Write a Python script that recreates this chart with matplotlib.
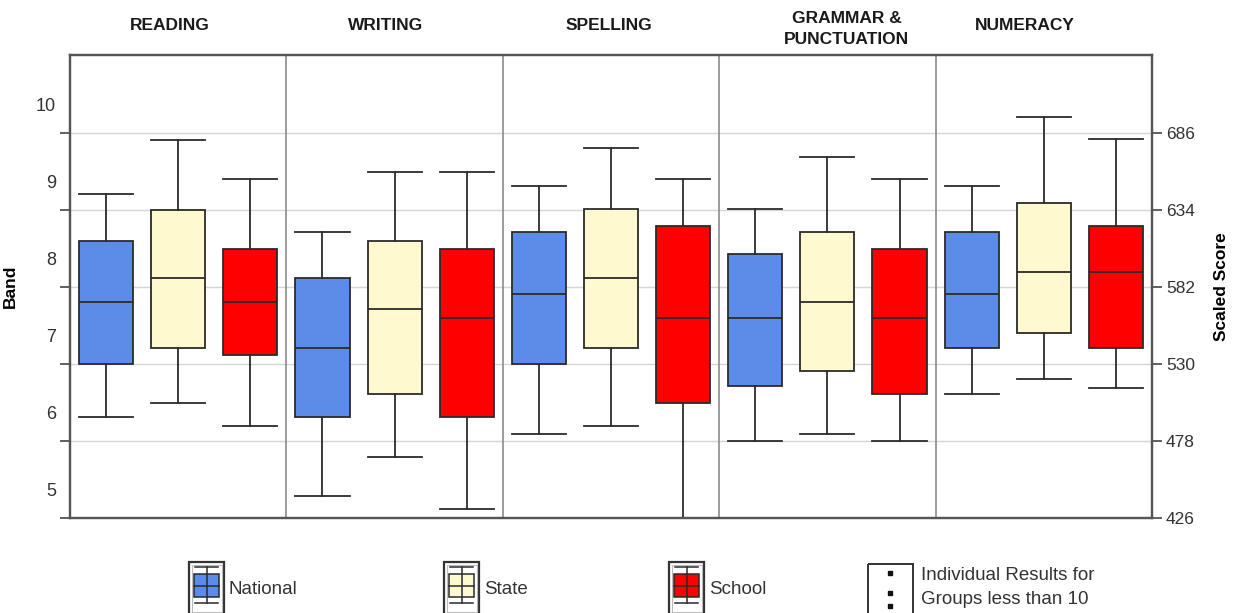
import matplotlib
matplotlib.use("Agg")
import matplotlib.pyplot as plt
from matplotlib.patches import Rectangle
from matplotlib.lines import Line2D

plt.rcParams['font.family'] = ['Liberation Sans', 'DejaVu Sans']

# ---------------- data (scaled scores) ----------------
domains = ["READING", "WRITING", "SPELLING", "GRAMMAR &\nPUNCTUATION", "NUMERACY"]
groups = ["National", "State", "School"]

# per group: lists over domains
national_low  = [494, 441, 483, 478, 510]
national_q1   = [530, 494, 530, 515, 541]
national_med  = [572, 541, 577, 561, 577]
national_q3   = [613, 588, 619, 604, 619]
national_high = [645, 619, 650, 635, 650]

state_low  = [504, 467, 488, 483, 520]
state_q1   = [541, 510, 541, 525, 551]
state_med  = [588, 567, 588, 572, 592]
state_q3   = [634, 613, 635, 619, 639]
state_high = [681, 660, 676, 670, 697]

school_low  = [488, 432, 415, 478, 514]
school_q1   = [536, 494, 504, 510, 541]
school_med  = [572, 561, 561, 561, 592]
school_q3   = [608, 608, 623, 608, 623]
school_high = [655, 660, 655, 655, 682]

score_ticks = [426, 478, 530, 582, 634, 686]
band_labels = ["5", "6", "7", "8", "9", "10"]

colors = {"National": "#5B8DE8", "State": "#FFF9CF", "School": "#FF0000"}
edge = "#2b2b2b"

series = {
    "National": (national_low, national_q1, national_med, national_q3, national_high),
    "State": (state_low, state_q1, state_med, state_q3, state_high),
    "School": (school_low, school_q1, school_med, school_q3, school_high),
}

# ---------------- figure ----------------
W, H = 1238, 613
fig = plt.figure(figsize=(W / 100, H / 100), dpi=100)
L, R, T, B = 70, 1152, 55, 518
ax = fig.add_axes([L / W, 1 - B / H, (R - L) / W, (B - T) / H])

ylo, yhi = 426, 738.7
offsets = [1 / 6, 1 / 2, 5 / 6]
width = 0.25

for gi, g in enumerate(groups):
    lo, q1, med, q3, hi = series[g]
    stats = []
    for d in range(len(domains)):
        stats.append(dict(whislo=lo[d], q1=q1[d], med=med[d], q3=q3[d],
                          whishi=hi[d], fliers=[]))
    ax.bxp(stats, positions=[d + offsets[gi] for d in range(len(domains))],
           widths=width, patch_artist=True, showfliers=False,
           boxprops=dict(facecolor=colors[g], edgecolor=edge, linewidth=1.3),
           medianprops=dict(color=edge, linewidth=1.3),
           whiskerprops=dict(color=edge, linewidth=1.3),
           capprops=dict(color=edge, linewidth=1.3),
           capwidths=width, zorder=3)

ax.set_xlim(0, len(domains))
ax.set_ylim(ylo, yhi)
ax.set_xticks([])

# separators
for d in range(1, len(domains)):
    ax.axvline(d, color="#8c8c8c", linewidth=1.2, zorder=2)

# gridlines
for s in score_ticks[1:]:
    ax.axhline(s, color="#d6d6d6", linewidth=1.0, zorder=1)

# left axis: tick marks at grid, band labels between
ax.set_yticks(score_ticks)
ax.set_yticklabels([])
ax.tick_params(axis="y", which="major", length=7, width=1.2, color="#444444", direction="out")
band_pos = [s + 19.5 for s in score_ticks]
ax.set_yticks(band_pos, minor=True)
ax.set_yticklabels(band_labels, minor=True, fontsize=13, color="#333333")
ax.tick_params(axis="y", which="minor", length=0, pad=10)
ax.set_ylabel("Band", fontsize=12.5, fontweight="bold")
ax.yaxis.set_label_coords((18 - L) / (R - L), 0.5)

# right axis
ax2 = ax.twinx()
ax2.set_ylim(ylo, yhi)
ax2.set_yticks(score_ticks)
ax2.set_yticklabels([str(s) for s in score_ticks], fontsize=12.5, color="#333333")
ax2.tick_params(axis="y", length=7, width=1.2, color="#444444", pad=3)
ax2.set_ylabel("Scaled Score", fontsize=12.5, fontweight="bold")
ax2.yaxis.set_label_coords((1214 - L) / (R - L), 0.5)

for a in (ax, ax2):
    for sp in a.spines.values():
        sp.set_color("#555555")
        sp.set_linewidth(1.6)

# domain headers
header_x = [0.46, 1.46, 2.49, 3.59, 4.41]
for hx, name in zip(header_x, domains):
    dy = 26 if "\n" in name else 29
    ax.text(hx, 1.0 + dy / (B - T), name,
            transform=ax.get_xaxis_transform(), ha="center", va="center",
            fontsize=12.5, fontweight="bold", color="#1a1a1a", linespacing=1.5)

# ---------------- legend (drawn in pixel coordinates) ----------------
lg = fig.add_axes([0, 0, 1, 1])
lg.set_xlim(0, W)
lg.set_ylim(H, 0)
lg.axis("off")

def legend_box(x0, name):
    lg.add_patch(Rectangle((x0, 562), 35, 52, fill=False, edgecolor="#333333", linewidth=1.6))
    lg.add_patch(Rectangle((x0 + 2.5, 564.5), 30, 47, fill=False, edgecolor="#bbbbbb", linewidth=0.8))
    cx = x0 + 17.5
    lg.add_line(Line2D([cx, cx], [567, 603], color=edge, linewidth=1.1))
    lg.add_line(Line2D([x0 + 6, x0 + 29], [567, 567], color=edge, linewidth=1.1))
    lg.add_line(Line2D([x0 + 6, x0 + 29], [603, 603], color=edge, linewidth=1.1))
    lg.add_patch(Rectangle((x0 + 5, 574), 25, 23, facecolor=colors[name], edgecolor=edge, linewidth=1.1))
    lg.add_line(Line2D([x0 + 5, x0 + 30], [586, 586], color=edge, linewidth=1.1))
    lg.text(x0 + 40, 589, name, ha="left", va="center", fontsize=13.5, color="#333333")

legend_box(189, "National")
legend_box(444, "State")
legend_box(669, "School")

lg.add_patch(Rectangle((868, 564), 45, 52, fill=False, edgecolor="#333333", linewidth=1.4))
for dy in (573, 593, 606):
    lg.plot([890], [dy], marker="s", markersize=3, color="#111111")
lg.text(921, 576, "Individual Results for", ha="left", va="center", fontsize=13.5, color="#333333")
lg.text(921, 599, "Groups less than 10", ha="left", va="center", fontsize=13.5, color="#333333")

fig.savefig("out.png", dpi=100, facecolor="white")
